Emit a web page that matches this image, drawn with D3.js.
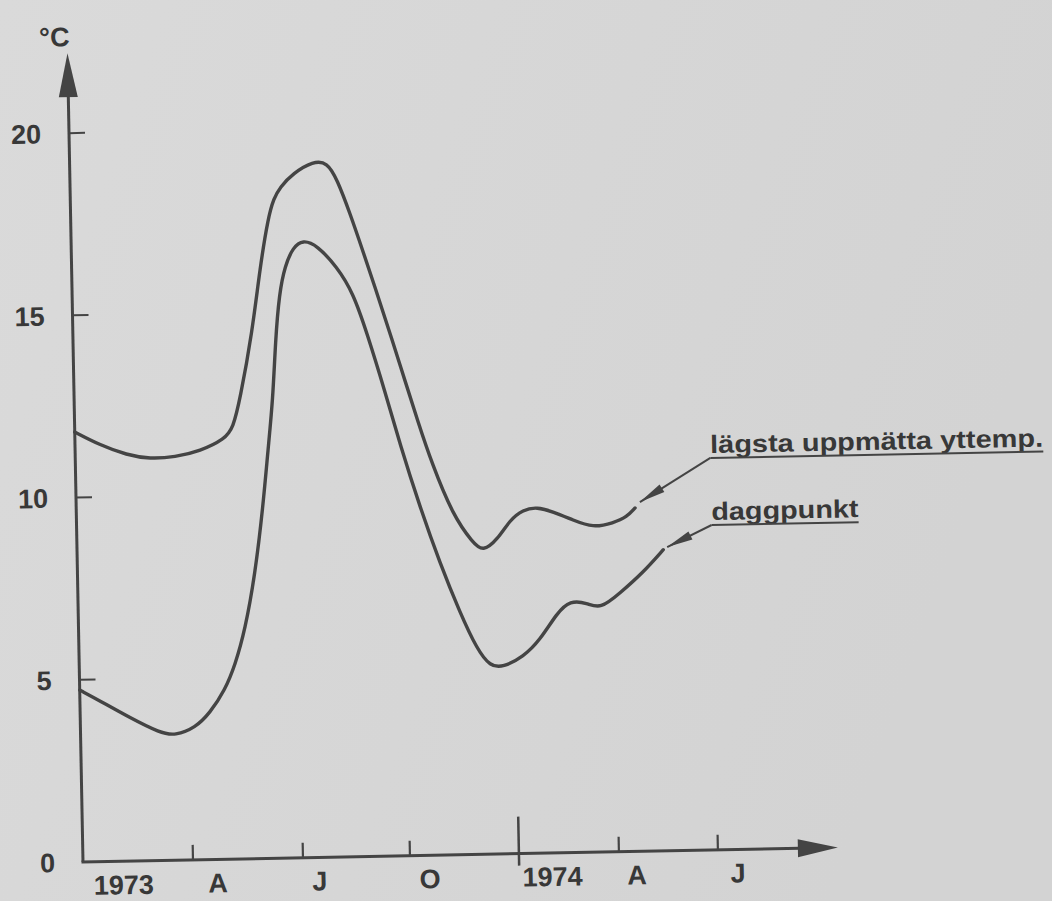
<!DOCTYPE html>
<html><head><meta charset="utf-8">
<script src="https://cdn.jsdelivr.net/npm/d3@7"></script>
<style>html,body{margin:0;padding:0;background:#d8d8d8;} svg{display:block}</style>
</head><body>
<svg id="chart" width="1052" height="901"></svg>
<script>
// ---- data ----
const quarterTicks = [0, 3, 6, 9, 12, 15, 18];           // months since Jan 1973
const smallTicks = [3, 6, 9, 15, 18];
const yearTicks = [12];
const xLabels = ["1973", "A", "J", "O", "1974", "A", "J"];
const xLabelMonths = [1.1, 3.67, 6.46, 9.54, 13.0, 15.54, 18.6];
const yTicks = [0, 5, 10, 15, 20];
const yUnit = "°C";

// lägsta uppmätta yttemp. (lowest measured surface temperature)
const surfMonth = [0, 0.68, 1.41, 2.04, 2.72, 3.41, 4.09, 4.32, 4.52, 4.89, 5.14, 5.39, 5.55, 5.72, 6.09, 6.66, 7.05, 7.32, 7.67, 8.01, 8.41, 8.78, 9.11, 9.45, 9.81, 10.37, 10.90, 11.17, 11.57, 11.93, 12.32, 12.74, 13.22, 13.82, 14.41, 15.02, 15.44, 15.69];
const surfTemp  = [11.80, 11.43, 11.14, 11.02, 11.06, 11.21, 11.53, 11.83, 12.59, 14.43, 16.23, 17.6, 18.1, 18.4, 18.78, 19.1, 19.07, 18.6, 17.64, 16.6, 15.35, 14.15, 13.05, 11.9, 10.75, 9.3, 8.55, 8.3, 8.62, 9.16, 9.43, 9.5, 9.36, 9.12, 8.9, 9.02, 9.18, 9.42];

// daggpunkt (dew point)
const dewMonth = [0, 0.55, 1.36, 2.17, 2.58, 3.13, 3.54, 3.96, 4.25, 4.54, 4.84, 5.10, 5.26, 5.42, 5.52, 5.65, 5.82, 6.05, 6.33, 6.72, 7.27, 7.71, 8.08, 8.55, 8.94, 9.46, 9.98, 10.51, 10.96, 11.31, 11.66, 12.24, 12.76, 13.28, 13.68, 14.19, 14.58, 15.19, 15.89, 16.52];
const dewTemp  = [4.72, 4.41, 3.93, 3.5, 3.42, 3.62, 4.02, 4.64, 5.32, 6.28, 7.78, 9.70, 11.21, 12.58, 14.2, 15.5, 16.25, 16.75, 16.95, 16.8, 16.19, 15.47, 14.35, 12.75, 11.3, 9.56, 8.01, 6.63, 5.62, 5.15, 5.12, 5.39, 5.85, 6.58, 6.92, 6.84, 6.66, 7.10, 7.64, 8.26];

const seriesNames = ["lägsta uppmätta yttemp.", "daggpunkt"];
const labelMonth = [18.0, 18.0];
const labelTemp = [10.89, 9.05];
const arrowTipMonth = [15.84, 16.64];
const arrowTipTemp = [9.58, 8.33];

// ---- layout ----
const ink = "#444";
const svg = d3.select("#chart");
const defs = svg.append("defs");
const grad = defs.append("linearGradient").attr("id", "bg").attr("x1", 0).attr("x2", 1).attr("y1", 0).attr("y2", 0.3);
grad.append("stop").attr("offset", "0%").attr("stop-color", "#dadada");
grad.append("stop").attr("offset", "100%").attr("stop-color", "#d3d3d3");
svg.append("rect").attr("width", 1052).attr("height", 901).attr("fill", "url(#bg)");

const x0 = 83, y0 = 862;
const x = d3.scaleLinear().domain(quarterTicks).range([83, 193, 303, 410, 519, 619, 718]);
const y = d3.scaleLinear().domain([0, 20]).range([862, 133]);

const g = svg.append("g").attr("transform", `rotate(-1.1, ${x0}, ${y0})`);
const font = "Liberation Sans, Arial, sans-serif";

// axes
g.append("line").attr("x1", x0).attr("x2", x0).attr("y1", y0).attr("y2", 95)
  .attr("stroke", ink).attr("stroke-width", 3);
g.append("path").attr("d", `M${x0},53 L${x0 - 9.5},97 L${x0 + 9.5},97 Z`).attr("fill", ink);
g.append("line").attr("x1", x0 - 1.5).attr("x2", 800).attr("y1", y0).attr("y2", y0)
  .attr("stroke", ink).attr("stroke-width", 3);
g.append("path").attr("d", `M838,${y0} L798,${y0 - 9} L798,${y0 + 9} Z`).attr("fill", ink);

// y ticks
g.selectAll(".yt").data(yTicks.filter(d => d > 0)).join("line")
  .attr("x1", x0).attr("x2", x0 + 16).attr("y1", d => y(d)).attr("y2", d => y(d))
  .attr("stroke", ink).attr("stroke-width", 2);
g.selectAll(".yl").data(yTicks).join("text")
  .attr("x", x0 - 28).attr("y", d => y(d)).attr("dy", "0.36em")
  .attr("text-anchor", "end").attr("font-family", font)
  .attr("font-weight", "bold").attr("font-size", 27).attr("fill", "#383838").text(d => d);
g.append("text").attr("x", x0 - 28).attr("y", 46)
  .attr("font-family", font).attr("font-weight", "bold")
  .attr("font-size", 27).attr("fill", "#383838").text(yUnit);

// x ticks
g.selectAll(".xt").data(smallTicks).join("line")
  .attr("x1", d => x(d)).attr("x2", d => x(d)).attr("y1", y0).attr("y2", y0 - 15)
  .attr("stroke", ink).attr("stroke-width", 2.2);
g.selectAll(".xy").data(yearTicks).join("line")
  .attr("x1", d => x(d)).attr("x2", d => x(d)).attr("y1", y0 + 12).attr("y2", y0 - 37)
  .attr("stroke", ink).attr("stroke-width", 2.5);
g.selectAll(".xl").data(xLabels).join("text")
  .attr("x", (d, i) => x(xLabelMonths[i])).attr("y", y0 + 33)
  .attr("text-anchor", "middle").attr("font-family", font)
  .attr("font-weight", "bold").attr("font-size", 27).attr("fill", "#383838").text(d => d);

// curves
const line = d3.line().x(d => x(d[0])).y(d => y(d[1])).curve(d3.curveBasis);
const series = [d3.zip(surfMonth, surfTemp), d3.zip(dewMonth, dewTemp)];
g.selectAll(".curve").data(series).join("path")
  .attr("d", line).attr("fill", "none").attr("stroke", ink)
  .attr("stroke-width", 3.4).attr("stroke-linejoin", "round").attr("stroke-linecap", "round");

// annotation labels
const labelWidths = [333, 147];
const labelG = g.selectAll(".lab").data(seriesNames).join("g");
labelG.append("text")
  .attr("x", (d, i) => x(labelMonth[i])).attr("y", (d, i) => y(labelTemp[i]))
  .attr("font-family", font).attr("font-weight", "bold")
  .attr("font-size", 25).attr("fill", "#383838")
  .attr("textLength", (d, i) => labelWidths[i]).attr("lengthAdjust", "spacingAndGlyphs")
  .text(d => d);
labelG.append("line")
  .attr("x1", (d, i) => x(labelMonth[i])).attr("x2", (d, i) => x(labelMonth[i]) + labelWidths[i])
  .attr("y1", (d, i) => y(labelTemp[i]) + 5).attr("y2", (d, i) => y(labelTemp[i]) + 5)
  .attr("stroke", ink).attr("stroke-width", 2);
// leader arrows
labelG.each(function(d, i) {
  const sx = x(labelMonth[i]), sy = y(labelTemp[i]) + 5;
  const tx = x(arrowTipMonth[i]), ty = y(arrowTipTemp[i]);
  const sel = d3.select(this);
  sel.append("line").attr("x1", sx).attr("y1", sy).attr("x2", tx).attr("y2", ty)
    .attr("stroke", ink).attr("stroke-width", 2);
  const ang = Math.atan2(sy - ty, sx - tx);
  const L = 26, W = 4.5;
  const bx = tx + L * Math.cos(ang), by = ty + L * Math.sin(ang);
  const px = -Math.sin(ang) * W, py = Math.cos(ang) * W;
  sel.append("path")
    .attr("d", `M${tx},${ty} L${bx + px},${by + py} L${bx - px},${by - py} Z`)
    .attr("fill", ink);
});
</script>
</body></html>
